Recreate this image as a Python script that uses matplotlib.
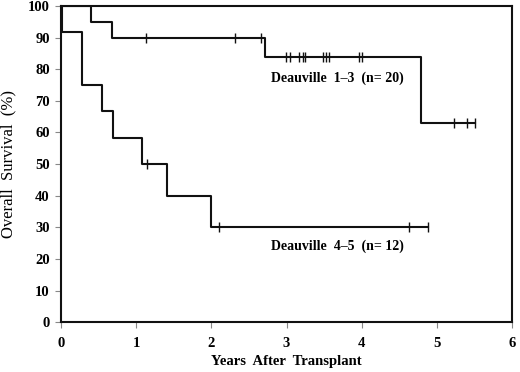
import matplotlib
matplotlib.use("Agg")
import matplotlib.pyplot as plt

# Deauville 1-3 (n=20): step times (years) and survival (%)
d13_times = [0.0, 0.40, 0.68, 2.72, 4.79, 5.51]
d13_surv = [100, 95, 90, 84, 63, 63]
d13_censor_t = [1.13, 2.32, 2.66, 2.99, 3.05, 3.17, 3.22, 3.25, 3.48, 3.52, 3.57,
                3.96, 4.01, 5.23, 5.40, 5.51]
d13_censor_s = [90, 90, 90, 84, 84, 84, 84, 84, 84, 84, 84, 84, 84, 63, 63, 63]

# Deauville 4-5 (n=12)
d45_times = [0.0, 0.02, 0.28, 0.55, 0.70, 1.08, 1.41, 2.00, 4.88]
d45_surv = [100, 91.7, 75, 66.7, 58.3, 50, 40, 30, 30]
d45_censor_t = [1.14, 2.10, 4.63, 4.88]
d45_censor_s = [50, 30, 30, 30]

x_ticks = [0, 1, 2, 3, 4, 5, 6]
y_ticks = [0, 10, 20, 30, 40, 50, 60, 70, 80, 90, 100]

plt.rcParams['font.family'] = ['Liberation Serif', 'DejaVu Serif']

fig = plt.figure(figsize=(5.2, 3.72), dpi=100)
ax = fig.add_axes([0.117, 0.134, 0.868, 0.850])

ax.step(d13_times, d13_surv, where='post', color='#111111', linewidth=1.5)
ax.step(d45_times, d45_surv, where='post', color='#111111', linewidth=1.5)
ax.plot(d13_censor_t, d13_censor_s, linestyle='none', marker='|', markersize=6.5,
        markeredgewidth=1, color='#111111')
ax.plot(d45_censor_t, d45_censor_s, linestyle='none', marker='|', markersize=6.5,
        markeredgewidth=1, color='#111111')

ax.text(2.79, 77, "Deauville  1\u20133  (n= 20)", fontsize=10, fontweight='bold',
        va='center', ha='left')
ax.text(2.80, 24, "Deauville  4\u20135  (n= 12)", fontsize=10, fontweight='bold',
        va='center', ha='left')

ax.set_xlim(0, 6)
ax.set_ylim(0, 100)
ax.set_xticks(x_ticks)
ax.set_yticks(y_ticks)
ax.tick_params(axis='both', color='#888888', length=4, width=0.8, labelsize=10.5)
ax.tick_params(axis='x', pad=7)
ax.tick_params(axis='y', pad=4)
for lab in ax.get_xticklabels() + ax.get_yticklabels():
    lab.set_fontweight('bold')

for s in ax.spines.values():
    s.set_linewidth(1.5)
    s.set_color('#111111')

ax.set_xlabel("Years  After  Transplant", fontsize=10.5, fontweight='bold', labelpad=3)
ax.set_ylabel("Overall  Survival  (%)", fontsize=12, labelpad=8)

plt.savefig("out.png", dpi=100)
